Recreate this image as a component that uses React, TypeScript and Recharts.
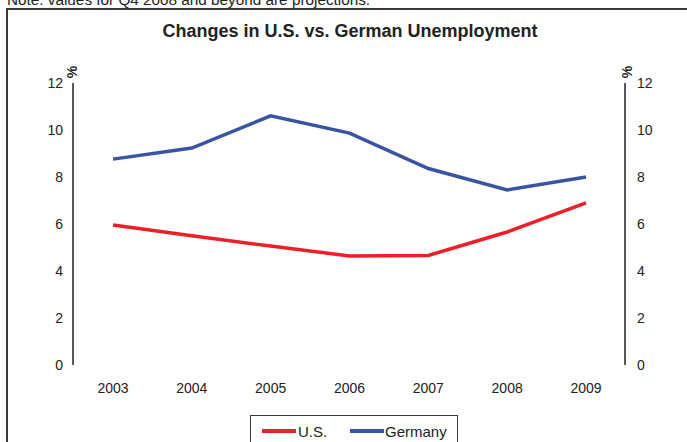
import { LineChart, Line, XAxis, YAxis } from "recharts";

const years = ["2003", "2004", "2005", "2006", "2007", "2008", "2009"];
const usRate = [5.96, 5.5, 5.06, 4.64, 4.66, 5.66, 6.9];
const germanyRate = [8.76, 9.23, 10.6, 9.87, 8.36, 7.45, 8.0];
const yTicks = [0, 2, 4, 6, 8, 10, 12];

const data = years.map((year, i) => ({ year, us: usRate[i], germany: germanyRate[i] }));

const RED = "#ec2027";
const BLUE = "#3954a5";
const FONT = "Arial, 'Liberation Sans', Helvetica, sans-serif";
const tickStyle = { fontSize: 14, fill: "#222", fontFamily: FONT };

function PercentLabel(props: any) {
  const { viewBox, side } = props;
  if (!viewBox) return null;
  const x = side === "left" ? viewBox.x + viewBox.width - 1 : viewBox.x + 2;
  const y = viewBox.y - 11;
  return (
    <text
      x={x}
      y={y}
      transform={`rotate(-90 ${x} ${y})`}
      textAnchor="middle"
      dominantBaseline="central"
      fontSize={14}
      fontWeight="bold"
      fontFamily={FONT}
      fill="#222"
    >
      %
    </text>
  );
}

export default function App() {
  return (
    <div
      style={{
        position: "fixed",
        left: 0,
        top: 0,
        width: 687,
        height: 442,
        overflow: "hidden",
        background: "#fff",
        fontFamily: FONT,
      }}
    >
      <div
        style={{
          position: "absolute",
          left: 7,
          top: -8,
          fontSize: 15.3,
          lineHeight: "16px",
          color: "#222",
          whiteSpace: "nowrap",
        }}
      >
        Note: values for Q4 2008 and beyond are projections.
      </div>
      <div
        style={{
          position: "absolute",
          left: 6,
          top: 8,
          width: 720,
          height: 480,
          border: "2px solid #3a3a3a",
        }}
      />
      <div
        style={{
          position: "absolute",
          left: 0,
          width: 700,
          top: 21,
          textAlign: "center",
          fontSize: 18,
          fontWeight: "bold",
          color: "#222",
          whiteSpace: "nowrap",
        }}
      >
        Changes in U.S. vs. German Unemployment
      </div>
      <div style={{ position: "absolute", left: 0, top: 0 }}>
        <LineChart
          width={687}
          height={442}
          data={data}
          margin={{ top: 83, right: 0, bottom: 47, left: 0 }}
        >
          <XAxis
            dataKey="year"
            axisLine={false}
            tickLine={false}
            tickSize={0}
            tickMargin={18}
            padding={{ left: 40, right: 39 }}
            tick={tickStyle}
            height={30}
          />
          <YAxis
            yAxisId="left"
            orientation="left"
            width={73}
            domain={[0, 12]}
            ticks={yTicks}
            interval={0}
            tickLine={false}
            tickSize={4}
            tickMargin={6}
            axisLine={{ stroke: "#222", strokeWidth: 1.5 }}
            tick={tickStyle}
            label={<PercentLabel side="left" />}
          />
          <YAxis
            yAxisId="right"
            orientation="right"
            width={62}
            domain={[0, 12]}
            ticks={yTicks}
            interval={0}
            tickLine={false}
            tickSize={4}
            tickMargin={8}
            axisLine={{ stroke: "#222", strokeWidth: 1.5 }}
            tick={tickStyle}
            label={<PercentLabel side="right" />}
          />
          <Line
            yAxisId="left"
            type="linear"
            dataKey="us"
            stroke={RED}
            strokeWidth={3.5}
            dot={false}
            isAnimationActive={false}
          />
          <Line
            yAxisId="right"
            type="linear"
            dataKey="germany"
            stroke={BLUE}
            strokeWidth={3.5}
            dot={false}
            isAnimationActive={false}
          />
        </LineChart>
      </div>
      <div
        style={{
          position: "absolute",
          left: 250,
          top: 415,
          width: 206,
          height: 40,
          border: "1.5px solid #3a3a3a",
          fontSize: 15,
          lineHeight: "17px",
          color: "#222",
        }}
      >
        <div style={{ position: "absolute", left: 11, top: 13, width: 34, height: 4, background: RED }} />
        <div style={{ position: "absolute", left: 47, top: 7 }}>U.S.</div>
        <div style={{ position: "absolute", left: 99, top: 13, width: 34, height: 4, background: BLUE }} />
        <div style={{ position: "absolute", left: 134, top: 7 }}>Germany</div>
      </div>
    </div>
  );
}
